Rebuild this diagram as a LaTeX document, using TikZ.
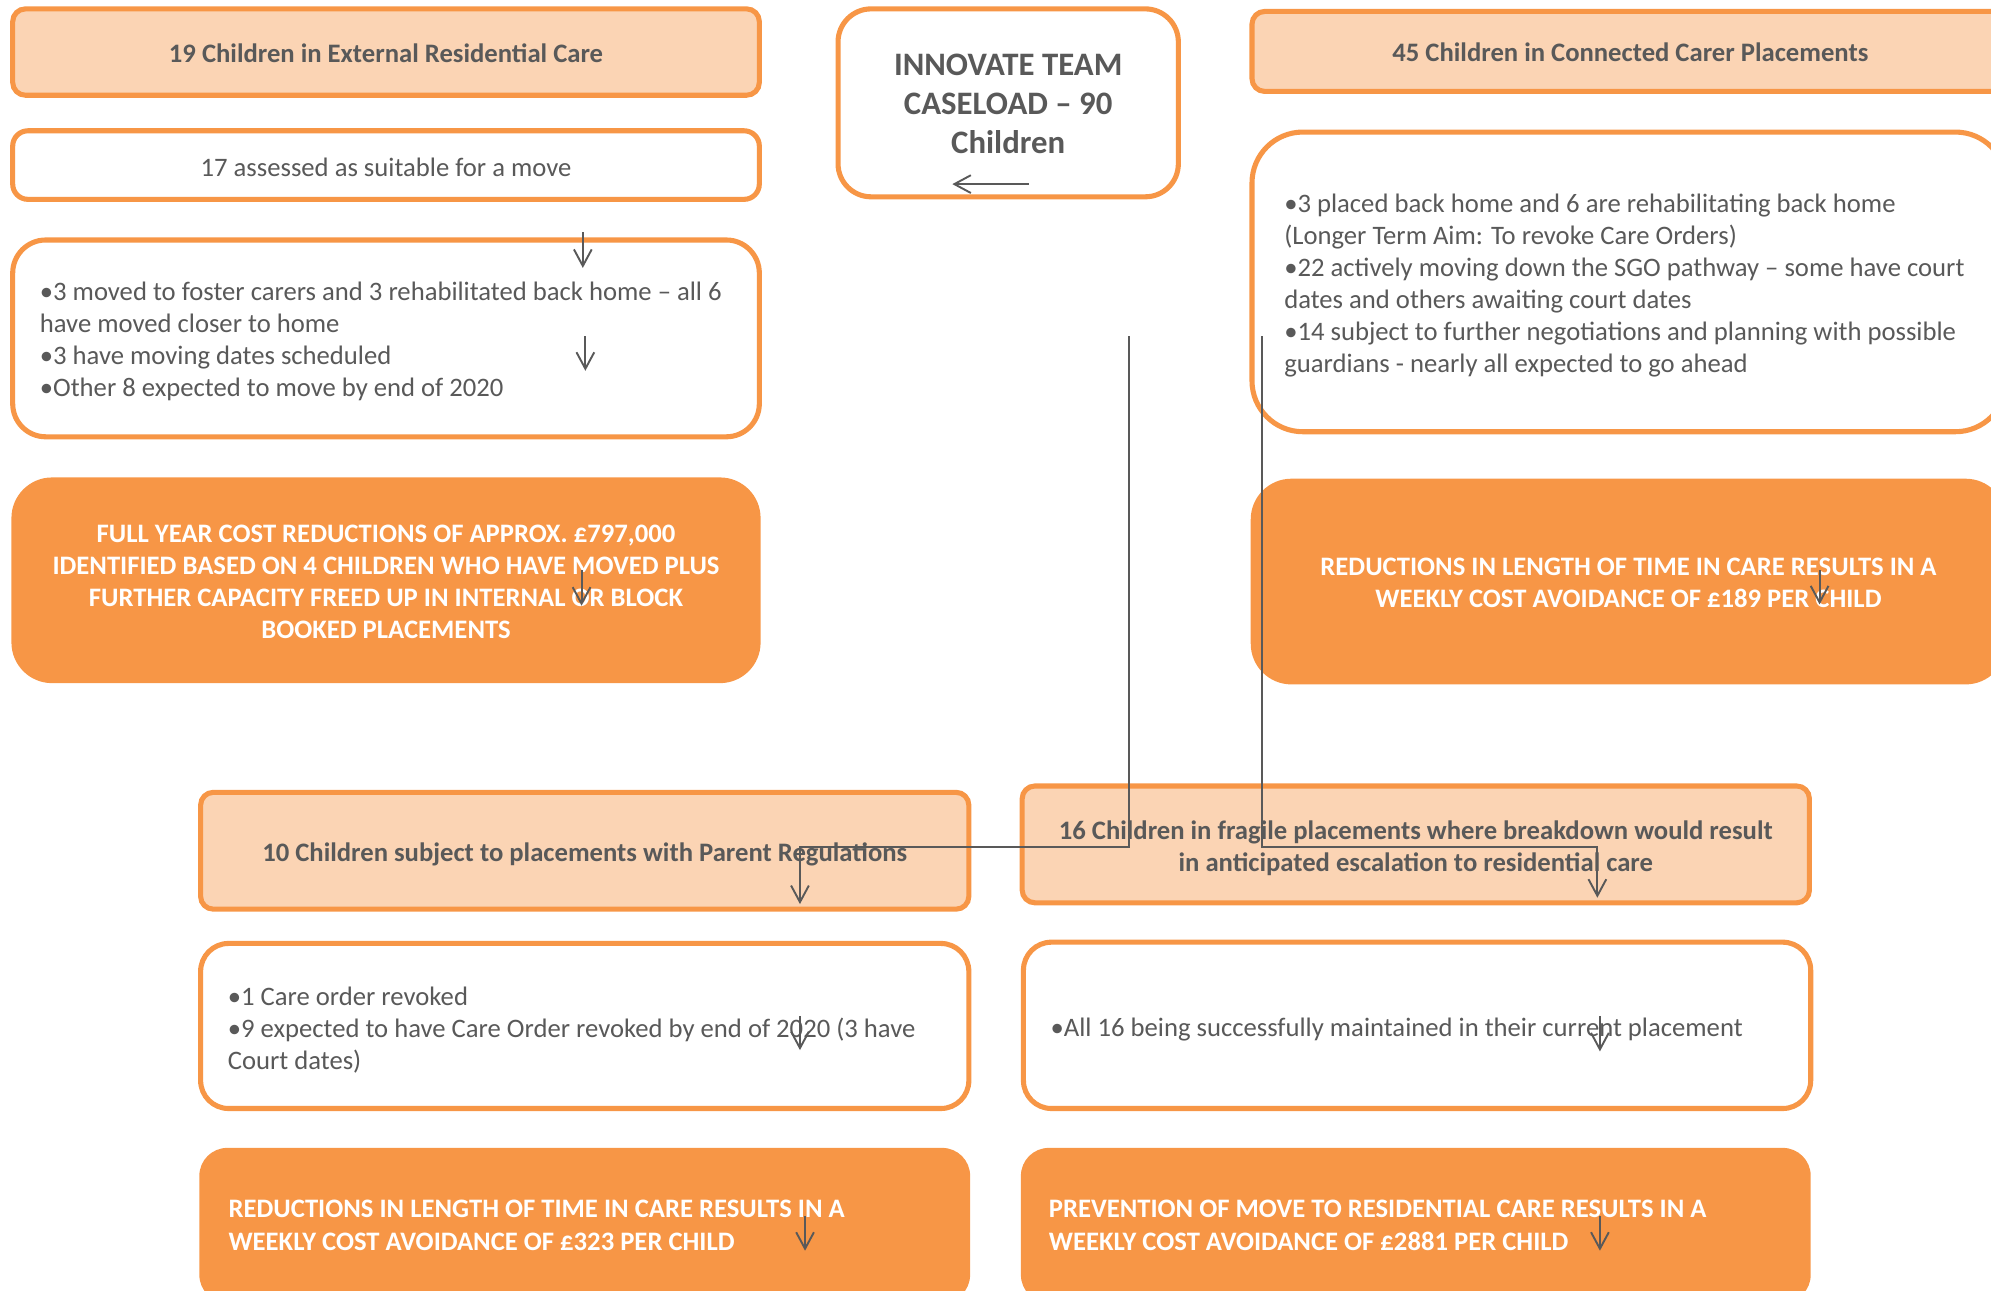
\documentclass[tikz,border=0pt]{standalone}
\usepackage{fontspec}
\setmainfont{Carlito}
\usetikzlibrary{arrows.meta}
\definecolor{org}{HTML}{F79646}
\definecolor{lorg}{HTML}{FBD4B4}
\definecolor{tgrey}{HTML}{595959}
\newcommand{\bodyfont}{\fontsize{10.5pt}{12.65pt}\selectfont}
\begin{document}
\begin{tikzpicture}[x=0.5pt,y=-0.5pt,
  every node/.style={font=\bodyfont, text=tgrey},
  base/.style={draw=org, line width=2pt, inner sep=0pt},
  hdr/.style={base, fill=lorg, rounded corners=5pt},
  wbox/.style={base, fill=white},
  obox/.style={fill=org, draw=none, inner sep=0pt},
  txt/.style={inner sep=0pt, align=left},
  ctxt/.style={inner sep=0pt, align=center, font=\bodyfont\bfseries},
  otxt/.style={inner sep=0pt, text=white, font=\bodyfont\bfseries},
  conn/.style={draw=tgrey, line width=0.75pt},
  arr/.style={conn, -{Straight Barb[length=6.5pt,width=7pt]}}
]
\useasboundingbox (0,0) rectangle (1568,1016);
\clip (0,0) rectangle (1568,1016);

% left column
\node[hdr, minimum width=294pt, minimum height=34pt] (A) at (304,41) {};
\node[ctxt] (At) at ([yshift=-0.5pt]A.center) {19 Children in External Residential Care};
\node[wbox, rounded corners=6pt, minimum width=294pt, minimum height=27pt] (B) at (304,130) {};
\node[inner sep=0pt] (Bt) at ([yshift=-1pt]B.center) {17 assessed as suitable for a move};
\node[wbox, rounded corners=13pt, minimum width=294pt, minimum height=77.5pt] (C) at (304,266.5) {};
\node[txt, anchor=west] (Ct) at ([xshift=11.5pt,yshift=-1.2pt]C.west) {•3 moved to foster carers and 3 rehabilitated back home – all 6\\have moved closer to home\\•3 have moving dates scheduled\\•Other 8 expected to move by end of 2020};
\node[obox, rounded corners=16pt, minimum width=295pt, minimum height=81pt] (D) at (304,457) {};
\node[otxt, align=center] (Dt) at ([yshift=-0.5pt]D.center) {FULL YEAR COST REDUCTIONS OF APPROX. £797,000\\IDENTIFIED BASED ON 4 CHILDREN WHO HAVE MOVED PLUS\\FURTHER CAPACITY FREED UP IN INTERNAL OR BLOCK\\BOOKED PLACEMENTS};

% centre
\node[wbox, rounded corners=13pt, minimum width=134pt, minimum height=74pt] (T) at (794,81) {};
\node[inner sep=0pt, align=center, font=\fontsize{12.9pt}{15.3pt}\selectfont\bfseries] (Tt) at (794,82) {INNOVATE TEAM\\CASELOAD – 90\\Children};

% right column
\node[hdr, minimum width=298pt, minimum height=31.5pt] (E) at (1284,40.5) {};
\node[ctxt] (Et) at ([yshift=-0.5pt]E.center) {45 Children in Connected Carer Placements};
\node[wbox, rounded corners=20pt, minimum width=297pt, minimum height=118pt] (F) at (1283,222) {};
\node[txt, anchor=west] (Ft) at ([xshift=13.5pt,yshift=-1.5pt]F.west) {•3 placed back home and 6 are rehabilitating back home\\(Longer Term Aim: To revoke Care Orders)\\•22 actively moving down the SGO pathway – some have court\\dates and others awaiting court dates\\•14 subject to further negotiations and planning with possible\\guardians - nearly all expected to go ahead};
\node[obox, rounded corners=16pt, minimum width=297.5pt, minimum height=81pt] (G) at (1282.5,458) {};
\node[otxt, align=center] (Gt) at ([yshift=-0.5pt]G.center) {REDUCTIONS IN LENGTH OF TIME IN CARE RESULTS IN A\\WEEKLY COST AVOIDANCE OF £189 PER CHILD};

% lower rows
\node[hdr, minimum width=302.5pt, minimum height=46pt] (H) at (460.5,670) {};
\node[ctxt] (Ht) at ([yshift=-1.5pt]H.center) {10 Children subject to placements with Parent Regulations};
\node[hdr, minimum width=310pt, minimum height=46pt] (I) at (1115,665) {};
\node[ctxt] (It) at ([yshift=-1.5pt]I.center) {16 Children in fragile placements where breakdown would result\\in anticipated escalation to residential care};
\node[wbox, rounded corners=11pt, minimum width=302.5pt, minimum height=65pt] (J) at (460.5,808) {};
\node[txt, anchor=west] (Jt) at ([xshift=11.5pt,yshift=-1.5pt]J.west) {•1 Care order revoked\\•9 expected to have Care Order revoked by end of 2020 (3 have\\Court dates)};
\node[wbox, rounded corners=11pt, minimum width=310pt, minimum height=65.5pt] (K) at (1116,807.5) {};
\node[txt, anchor=west] (Kt) at ([xshift=11.5pt,yshift=-1.5pt]K.west) {•All 16 being successfully maintained in their current placement};
\node[obox, rounded corners=11pt, minimum width=303.5pt, minimum height=61pt] (L) at (460.5,965) {};
\node[otxt, align=left, anchor=west] (Lt) at ([xshift=11.5pt]L.west) {REDUCTIONS IN LENGTH OF TIME IN CARE RESULTS IN A\\WEEKLY COST AVOIDANCE OF £323 PER CHILD};
\node[obox, rounded corners=11pt, minimum width=311pt, minimum height=61pt] (M) at (1115,965) {};
\node[otxt, align=left, anchor=west] (Mt) at ([xshift=11pt]M.west) {PREVENTION OF MOVE TO RESIDENTIAL CARE RESULTS IN A\\WEEKLY COST AVOIDANCE OF £2881 PER CHILD};

% connectors
\coordinate (t1) at (810,145); \coordinate (t2) at (750,145);
\draw[arr] (t1) -- (t2);
\coordinate (c1) at (459,183); \coordinate (c2) at (459,211);
\draw[arr] (c1) -- (c2);
\coordinate (c3) at (461,265); \coordinate (c4) at (461,292);
\draw[arr] (c3) -- (c4);
\coordinate (d1) at (458,449); \coordinate (d2) at (458,477);
\draw[arr] (d1) -- (d2);
\coordinate (g1) at (1433,449); \coordinate (g2) at (1433,476);
\draw[arr] (g1) -- (g2);
\coordinate (p1) at (889,265); \coordinate (p2) at (889,667); \coordinate (p3) at (630,712);
\draw[arr] (p1) -- (p2) -| (p3);
\coordinate (q1) at (994,265); \coordinate (q2) at (994,667); \coordinate (q3) at (1258,707);
\draw[arr] (q1) -- (q2) -| (q3);
\coordinate (j1) at (630,800); \coordinate (j2) at (630,827);
\draw[arr] (j1) -- (j2);
\coordinate (k1) at (1260,800); \coordinate (k2) at (1260,828);
\draw[arr] (k1) -- (k2);
\coordinate (l1) at (634,958); \coordinate (l2) at (634,985);
\draw[arr] (l1) -- (l2);
\coordinate (m1) at (1260,958); \coordinate (m2) at (1260,985);
\draw[arr] (m1) -- (m2);
\end{tikzpicture}
\end{document}
